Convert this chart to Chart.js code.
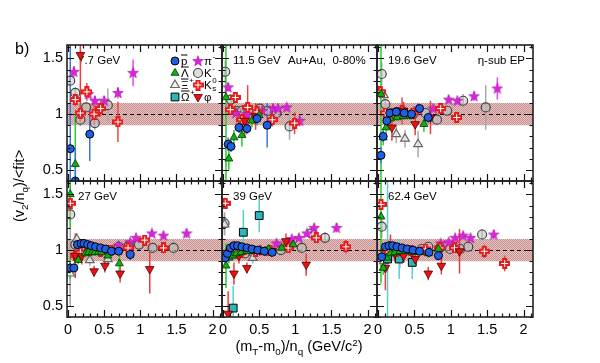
<!DOCTYPE html>
<html>
<head>
<meta charset="utf-8">
<script src="https://cdn.jsdelivr.net/npm/chart.js@4.4.1/dist/chart.umd.min.js"></script>
<style>
  html, body { margin: 0; padding: 0; background: #fff; }
  #wrap { position: relative; width: 600px; height: 363px; overflow: hidden; font-family: 'Liberation Sans', Arial, sans-serif; }
  #wrap canvas { position: absolute; left: 0; top: 0; }
  .lbl { position: absolute; white-space: nowrap; color: #000; line-height: 1; }
  .lbl sub { font-size: 68%; vertical-align: -0.35em; }
  .lbl sup { font-size: 68%; vertical-align: 0.55em; }
</style>
</head>
<body>
<div id="wrap">
  <div class="lbl" style="left:15px; top:41px; font-size:16px">b)</div>
  <div class="lbl" style="left:21px; top:186px; font-size:14.5px; transform: translate(-50%,-50%) rotate(-90deg)">(v<sub>2</sub>/n<sub>q</sub>)/&lt;fit&gt;</div>
  <div class="lbl" style="left:299px; top:347px; font-size:14.5px; transform: translate(-50%,-50%)">(m<sub>T</sub>-m<sub>0</sub>)/n<sub>q</sub> (GeV/c<sup>2</sup>)</div>
</div>
<script>
// panel labels and axis ticks
const energies = ['7.7 GeV', '11.5 GeV', '19.6 GeV', '27 GeV', '39 GeV', '62.4 GeV'];
const xTicks = [0, 0.5, 1, 1.5, 2];
const yTicks = [0.5, 1, 1.5];
const xRange = [-0.015, 2.13];
const yRange = [0.4, 1.62];

// each species: one list per panel (7.7, 11.5, 19.6, 27, 39, 62.4), points are [x, y, error]
const pbar = [
  [[0.03,0.69,1.0],[0.10,0.40,0.3],[0.30,0.82,0.24]],
  [[0.07,0.73,0.06],[0.11,0.71,0.05],[0.22,0.88,0.05],[0.33,0.87,0.05],[0.47,0.96,0.06],[0.61,0.90,0.2]],
  [[0.04,0.63,0.07],[0.07,0.80,0.05],[0.12,0.94,0.04],[0.16,1.01,0.03],[0.25,1.02,0.03],[0.36,1.01,0.03],[0.46,1.00,0.04],[0.57,1.05,0.04],[0.69,0.97,0.05]],
  [[0.03,0.84,0.04],[0.08,0.84,0.04],[0.13,1.05,0.03],[0.18,1.06,0.02],[0.22,1.06,0.02],[0.27,1.05,0.02],[0.32,1.04,0.02],[0.38,1.03,0.02],[0.45,1.02,0.02],[0.52,1.01,0.02],[0.60,0.99,0.03],[0.70,0.99,0.03],[0.86,0.96,0.05]],
  [[0.03,0.93,0.04],[0.06,0.97,0.03],[0.10,1.02,0.02],[0.15,1.04,0.02],[0.20,1.04,0.02],[0.26,1.03,0.02],[0.33,1.02,0.02],[0.40,1.01,0.02],[0.48,1.00,0.02],[0.57,0.99,0.03],[0.68,0.98,0.03]],
  [[0.05,0.94,0.04],[0.10,1.03,0.03],[0.15,1.04,0.02],[0.20,1.04,0.02],[0.26,1.03,0.02],[0.33,1.02,0.02],[0.40,1.01,0.02],[0.48,1.00,0.02],[0.57,0.99,0.03],[0.70,0.98,0.03],[0.83,0.95,0.04]]
];
const lambda = [
  [[0.10,0.55,0.45]],
  [[0.04,1.15,1.0],[0.08,0.60,0.1],[0.15,0.79,0.07],[0.26,0.81,0.1],[0.40,0.94,0.06],[0.50,0.99,0.05]],
  [[0.04,1.18,0.8],[0.07,0.79,0.07],[0.11,0.88,0.05],[0.17,0.96,0.04],[0.26,0.97,0.03],[0.35,0.98,0.03],[0.44,0.98,0.03],[0.63,0.91,0.07]],
  [[0.03,1.50,0.3],[0.03,0.84,0.1],[0.14,0.91,0.04],[0.19,1.05,0.03],[0.24,0.97,0.03],[0.28,0.98,0.03],[0.33,0.98,0.03],[0.37,0.98,0.03],[0.42,0.98,0.03],[0.46,0.98,0.03],[0.55,0.95,0.04],[0.71,0.88,0.1]],
  [[0.04,0.86,0.2],[0.08,0.93,0.05],[0.13,0.95,0.03],[0.18,0.97,0.03],[0.25,0.98,0.03],[0.33,0.99,0.02],[0.42,0.99,0.03],[0.52,1.00,0.03],[0.63,1.01,0.03],[0.81,1.02,0.04],[0.97,1.05,0.05]],
  [[0.04,1.30,0.6],[0.07,0.84,0.06],[0.12,0.93,0.04],[0.17,0.97,0.03],[0.23,0.98,0.03],[0.30,0.99,0.03],[0.38,0.99,0.03],[0.47,0.98,0.03],[0.57,0.98,0.03],[0.69,0.97,0.04],[0.83,1.01,0.05]]
];
const xi = [
  [],
  [],
  [[0.08,1.17,0.05],[0.25,0.82,0.08],[0.37,0.78,0.08],[0.55,0.73,0.12]],
  [[0.03,0.79,0.3],[0.12,1.10,0.05],[0.30,0.91,0.05],[0.55,0.92,0.06]],
  [[0.02,1.23,0.1],[0.15,0.95,0.05],[0.41,0.93,0.05]],
  [[0.08,0.90,0.1],[0.30,0.92,0.08]]
];
const omega = [
  [],
  [],
  [],
  [],
  [[0.14,0.48,0.2],[0.28,1.16,0.2],[0.50,1.31,0.15]],
  [[0.13,0.92,0.9],[0.29,0.92,0.18],[0.47,0.89,0.15]]
];
const pion = [
  [[0.08,1.38,0.05],[0.28,1.18,0.04],[0.37,1.12,0.04],[0.50,1.12,0.04],[0.69,1.19,0.05],[0.90,1.37,0.12]],
  [[0.07,1.24,0.04],[0.18,1.01,0.02],[0.33,1.00,0.02],[0.54,1.03,0.02],[0.69,1.05,0.02],[0.76,1.05,0.03],[0.88,1.06,0.03],[1.06,0.94,0.05]],
  [[0.55,1.05,0.02],[0.76,1.05,0.02],[0.97,1.13,0.03],[1.09,1.12,0.03],[1.32,1.16,0.04],[1.64,1.23,0.1]],
  [[0.70,1.04,0.02],[0.86,1.07,0.02],[0.94,1.11,0.02],[1.16,1.15,0.03],[1.32,1.13,0.03],[1.64,1.15,0.04]],
  [[0.74,1.06,0.02],[0.95,1.10,0.02],[1.05,1.11,0.02],[1.16,1.15,0.03],[1.26,1.20,0.03],[1.57,1.20,0.04]],
  [[0.86,1.06,0.02],[0.97,1.07,0.02],[1.06,1.11,0.02],[1.17,1.13,0.03],[1.27,1.11,0.03],[1.59,1.14,0.04]]
];
const kaon = [
  [[0.03,1.30,0.05],[0.10,1.19,0.05],[0.17,0.95,0.06],[0.25,1.06,0.05],[0.37,0.92,0.06],[0.55,1.08,0.15]],
  [[0.03,1.38,0.1],[0.11,1.13,0.04],[0.18,1.03,0.03],[0.26,1.03,0.03],[0.35,1.03,0.03],[0.51,1.05,0.03],[0.62,1.03,0.04],[0.74,1.01,0.04],[0.92,0.89,0.12]],
  [[0.05,1.36,0.1],[0.10,1.09,0.04],[0.19,1.01,0.03],[0.26,1.02,0.03],[0.35,1.02,0.03],[0.48,1.00,0.03],[0.65,1.01,0.04],[0.81,0.95,0.04],[0.95,1.03,0.05],[1.17,1.12,0.06],[1.48,1.06,0.2]],
  [[0.03,1.32,0.8],[0.10,1.05,0.05],[0.20,1.02,0.03],[0.30,1.01,0.02],[0.46,1.00,0.02],[0.58,1.00,0.02],[0.70,1.03,0.03],[0.84,1.04,0.03],[0.98,1.05,0.03],[1.17,1.02,0.04],[1.46,1.02,0.07]],
  [[0.02,1.24,0.1],[0.10,1.00,0.03],[0.20,0.99,0.02],[0.30,0.97,0.02],[0.42,0.98,0.02],[0.60,0.99,0.02],[0.80,1.00,0.03],[0.90,1.04,0.03],[1.09,1.02,0.04],[1.22,1.15,0.04],[1.41,1.11,0.05]],
  [[0.05,1.21,0.1],[0.10,1.00,0.03],[0.20,0.99,0.02],[0.30,0.99,0.02],[0.45,1.00,0.02],[0.60,1.01,0.02],[0.69,1.03,0.03],[0.85,1.02,0.03],[0.99,1.01,0.03],[1.13,1.01,0.04],[1.24,1.03,0.04],[1.43,1.14,0.05]]
];
const k0s = [
  [[0.10,1.13,0.06],[0.17,1.01,0.08],[0.26,1.20,0.08],[0.36,1.00,0.1],[0.45,1.05,0.07],[0.69,0.93,0.18]],
  [[0.10,1.04,0.05],[0.17,1.15,0.04],[0.26,0.95,0.06],[0.34,1.06,0.2],[0.47,1.02,0.05],[0.68,0.95,0.06],[0.99,0.92,0.1]],
  [[0.03,1.20,0.05],[0.10,1.01,0.04],[0.20,1.00,0.04],[0.33,1.03,0.12],[0.48,1.01,0.04],[0.86,1.05,0.04],[1.08,0.97,0.05]],
  [[0.03,1.42,0.05],[0.10,0.95,0.05],[0.17,0.98,0.04],[0.30,1.00,0.03],[0.45,0.99,0.03],[0.59,1.00,0.03],[0.83,1.02,0.03],[1.06,1.09,0.03],[1.32,1.02,0.05]],
  [[0.03,1.42,0.05],[0.12,1.00,0.04],[0.25,0.98,0.03],[0.45,0.99,0.03],[0.65,1.00,0.03],[0.90,1.02,0.03],[1.29,1.11,0.04],[1.70,1.03,0.06]],
  [[0.04,1.41,0.05],[0.12,1.00,0.04],[0.25,0.99,0.03],[0.45,1.00,0.03],[0.65,1.01,0.03],[0.85,1.02,0.03],[1.05,1.02,0.04],[1.46,0.99,0.06],[1.74,0.88,0.07]]
];
const phi = [
  [[0.17,1.53,0.6]],
  [[0.30,0.94,0.15],[0.45,0.98,0.12]],
  [[0.19,0.88,0.12],[0.35,1.03,0.08],[0.51,0.91,0.1],[0.72,0.97,0.15]],
  [[0.10,0.95,0.2],[0.19,0.95,0.08],[0.36,0.81,0.05],[0.51,0.86,0.06],[0.72,0.79,0.08],[1.13,0.83,0.22]],
  [[0.07,0.43,0.2],[0.15,0.79,0.1],[0.22,0.95,0.07],[0.33,0.84,0.05],[0.51,1.00,0.05],[0.67,0.99,0.05],[0.87,1.08,0.07],[1.15,0.87,0.1]],
  [[0.10,0.84,0.2],[0.17,1.04,0.1],[0.23,0.97,0.07],[0.35,0.95,0.06],[0.51,0.92,0.06],[0.69,0.79,0.06],[0.87,0.86,0.08],[1.12,0.99,0.2]]
];

// panel edges in page pixels
const colEdges = [67, 222, 377, 533];
const rowEdges = [45, 181, 317];
const Y_AXIS_W = 40, X_AXIS_H = 24;
const FONT = "'Liberation Sans', Arial, sans-serif";

function starImage(color) {
  const c = document.createElement('canvas');
  c.width = c.height = 12;
  const g = c.getContext('2d');
  g.beginPath();
  for (let k = 0; k < 10; k++) {
    const r = k % 2 ? 2.3 : 5.6;
    const a = -Math.PI / 2 + k * Math.PI / 5;
    g.lineTo(6 + r * Math.cos(a), 6.3 + r * Math.sin(a));
  }
  g.closePath();
  g.fillStyle = color; g.fill();
  g.strokeStyle = '#9a109a'; g.lineWidth = 0.6; g.stroke();
  return c;
}
function plusImage() {
  const c = document.createElement('canvas');
  c.width = c.height = 11;
  const g = c.getContext('2d');
  g.fillStyle = '#e41c1c';
  g.fillRect(3, 0, 5, 11);
  g.fillRect(0, 3, 11, 5);
  g.fillStyle = '#fff';
  g.fillRect(5, 2, 1, 7);
  g.fillRect(2, 5, 7, 1);
  return c;
}

// top-most first (chart.js draws the first dataset last)
const species = [
  { key: 'pbar', pts: pbar, style: 'circle', r: 4, bg: '#1f5fe6', bd: '#000', bw: 1, err: '#3a78d8', label: { b: 'p', bar: true } },
  { key: 'lambda', pts: lambda, style: 'triangle', r: 4.6, bg: '#10b010', bd: '#003300', bw: 0.8, err: '#2ec82e', label: { b: 'Λ', bar: true } },
  { key: 'phi', pts: phi, style: 'triangle', rot: 180, r: 5, bg: '#ee1010', bd: '#500000', bw: 0.8, err: '#ee3a3a', label: { b: 'φ' } },
  { key: 'k0s', pts: k0s, style: plusImage(), r: 5, bg: '#e41c1c', bd: '#e41c1c', bw: 0, err: '#ee4444', label: { b: 'K', sup: '0', sub: 's' } },
  { key: 'omega', pts: omega, style: 'rect', r: 5.5, bg: '#2cb8b8', bd: '#000', bw: 1, err: '#55d0d0', label: { b: 'Ω', bar: true, sup: '+' } },
  { key: 'xi', pts: xi, style: 'triangle', r: 5, bg: 'rgba(236,236,236,0.75)', bd: '#666', bw: 1.2, err: '#aaaaaa', label: { b: 'Ξ', bar: true, sup: '+' } },
  { key: 'pion', pts: pion, style: starImage('#e020e0'), r: 5, bg: '#e020e0', bd: '#e020e0', bw: 0, err: '#ee44ee', label: { b: 'π', sup: '-' } },
  { key: 'kaon', pts: kaon, style: 'circle', r: 4.5, bg: 'rgba(195,195,195,0.55)', bd: '#454545', bw: 1.2, err: '#a8a8a8', label: { b: 'K', sup: '-' } }
];

const S = Object.fromEntries(species.map(s => [s.key, s]));
const legendCols = [
  [S.pbar, S.lambda, S.xi, S.omega],
  [S.pion, S.kaon, S.k0s, S.phi]
];

let hatch = null;
function bandPattern(ctx) {
  if (hatch) return hatch;
  const c = document.createElement('canvas');
  c.width = c.height = 2;
  const g = c.getContext('2d');
  g.fillStyle = '#e6c4c4'; g.fillRect(0, 0, 2, 2);
  g.fillStyle = '#c99090'; g.fillRect(0, 0, 1, 1); g.fillRect(1, 1, 1, 1);
  hatch = ctx.createPattern(c, 'repeat');
  return hatch;
}

function drawLabel(ctx, lab, x, y) {
  ctx.font = '11.5px ' + FONT;
  ctx.textAlign = 'left';
  ctx.textBaseline = 'middle';
  ctx.fillStyle = '#000';
  const w = ctx.measureText(lab.b).width;
  ctx.fillText(lab.b, x, y + 0.5);
  if (lab.bar) {
    ctx.fillRect(x, y - 6.5, w, 1);
  }
  ctx.font = '8px ' + FONT;
  if (lab.sup) ctx.fillText(lab.sup, x + w + 0.5, y - 4);
  if (lab.sub) ctx.fillText(lab.sub, x + w + 0.5, y + 4);
}

function marker(ctx, s, x, y) {
  ctx.save();
  ctx.fillStyle = s.bg;
  ctx.strokeStyle = s.bd;
  ctx.lineWidth = s.bw;
  Chart.helpers.drawPoint(ctx, { pointStyle: s.style, radius: s.r, rotation: s.rot || 0, borderWidth: s.bw }, x, y);
  ctx.restore();
}

const decor = {
  id: 'decor',
  beforeDatasetsDraw(chart, args, opts) {
    const { ctx, chartArea: a, scales: { x, y } } = chart;
    ctx.save();
    ctx.beginPath();
    ctx.rect(a.left, a.top, a.width, a.height);
    ctx.clip();
    // +-10% band and unity line
    const yb1 = y.getPixelForValue(1.1), yb2 = y.getPixelForValue(0.9);
    ctx.fillStyle = bandPattern(ctx);
    ctx.fillRect(a.left, yb1, a.width, yb2 - yb1);
    ctx.strokeStyle = '#000';
    ctx.lineWidth = 1;
    ctx.setLineDash([4, 3]);
    const y1 = Math.round(y.getPixelForValue(1)) + 0.5;
    ctx.beginPath(); ctx.moveTo(a.left, y1); ctx.lineTo(a.right, y1); ctx.stroke();
    ctx.setLineDash([]);
    // panel text
    ctx.fillStyle = '#000';
    ctx.font = '11.5px ' + FONT;
    ctx.textBaseline = 'middle';
    ctx.textAlign = 'left';
    ctx.fillText(opts.title, a.left + 11, a.top + 16);
    if (opts.extra) ctx.fillText(opts.extra, a.left + 66, a.top + 16);
    if (opts.right) { ctx.textAlign = 'right'; ctx.fillText(opts.right, a.right - 8, a.top + 16); }
    // error bars
    ctx.lineWidth = 1.5;
    for (let di = chart.data.datasets.length - 1; di >= 0; di--) {
      const ds = chart.data.datasets[di];
      const meta = chart.getDatasetMeta(di);
      ctx.strokeStyle = ds.errColor;
      meta.data.forEach((pt, j) => {
        const v = ds.data[j].y, e = ds.errs[j];
        ctx.beginPath();
        ctx.moveTo(pt.x, y.getPixelForValue(v - e));
        ctx.lineTo(pt.x, y.getPixelForValue(v + e));
        ctx.stroke();
      });
    }
    ctx.restore();
  },
  afterDatasetsDraw(chart, args, opts) {
    const { ctx, chartArea: a, scales: { x, y } } = chart;
    ctx.save();
    ctx.strokeStyle = '#111';
    ctx.lineWidth = 1.2;
    ctx.beginPath();
    for (let k = 0; k <= 21; k++) {
      const px = Math.round(x.getPixelForValue(k / 10)) + 0.5;
      const len = k % 5 === 0 ? 7 : 3.5;
      ctx.moveTo(px, a.bottom); ctx.lineTo(px, a.bottom - len);
      ctx.moveTo(px, a.top); ctx.lineTo(px, a.top + len);
    }
    for (let k = 4; k <= 16; k++) {
      const py = Math.round(y.getPixelForValue(k / 10)) + 0.5;
      const len = k % 5 === 0 ? 7 : 3.5;
      ctx.moveTo(a.left, py); ctx.lineTo(a.left + len, py);
      ctx.moveTo(a.right, py); ctx.lineTo(a.right - len, py);
    }
    ctx.stroke();
    ctx.lineWidth = 1.6;
    ctx.strokeStyle = '#222';
    ctx.strokeRect(a.left, a.top, a.width, a.height);
    if (opts.legend) {
      legendCols.forEach((col, ci) => {
        col.forEach((s, ri) => {
          const mx = a.left + 108 + ci * 23, my = a.top + 16 + ri * 12;
          marker(ctx, s, mx, my);
          drawLabel(ctx, s.label, mx + 6, my);
        });
      });
    }
    ctx.restore();
  }
};

const wrap = document.getElementById('wrap');
energies.forEach((title, i) => {
  const col = i % 3, row = Math.floor(i / 3);
  const showY = col === 0, showX = row === 1;
  const cv = document.createElement('canvas');
  cv.width = 600; cv.height = 363;
  wrap.insertBefore(cv, wrap.firstChild);
  new Chart(cv.getContext('2d'), {
    type: 'scatter',
    data: {
      datasets: species.map(s => ({
        label: s.key,
        data: s.pts[i].map(p => ({ x: p[0], y: p[1] })),
        errs: s.pts[i].map(p => p[2]),
        errColor: s.err,
        pointStyle: s.style,
        pointRadius: s.r,
        pointRotation: s.rot || 0,
        pointBackgroundColor: s.bg,
        pointBorderColor: s.bd,
        pointBorderWidth: s.bw,
        clip: 0
      }))
    },
    options: {
      responsive: false,
      animation: false,
      events: [],
      layout: {
        padding: {
          left: colEdges[col] - (showY ? Y_AXIS_W : 0),
          right: 600 - colEdges[col + 1],
          top: rowEdges[row],
          bottom: 363 - rowEdges[row + 1] - (showX ? X_AXIS_H : 0)
        }
      },
      scales: {
        x: {
          type: 'linear',
          min: xRange[0],
          max: xRange[1],
          afterBuildTicks: s => { s.ticks = xTicks.map(v => ({ value: v })); },
          afterFit: s => { s.height = showX ? X_AXIS_H : 0; },
          grid: { display: false, drawTicks: false },
          border: { display: false },
          ticks: { display: showX, padding: 4, color: '#000', maxRotation: 0, autoSkip: false, font: { family: FONT, size: 14.5 }, callback: v => String(v) }
        },
        y: {
          type: 'linear',
          min: yRange[0],
          max: yRange[1],
          afterBuildTicks: s => { s.ticks = yTicks.map(v => ({ value: v })); },
          afterFit: s => { s.width = showY ? Y_AXIS_W : 0; },
          grid: { display: false, drawTicks: false },
          border: { display: false },
          ticks: { display: showY, padding: 4, color: '#000', autoSkip: false, font: { family: FONT, size: 14.5 }, callback: v => String(v) }
        }
      },
      plugins: {
        legend: { display: false },
        tooltip: { enabled: false },
        decor: {
          title: title,
          extra: i === 1 ? 'Au+Au,  0-80%' : '',
          right: i === 2 ? 'η-sub EP' : '',
          legend: i === 0
        }
      }
    },
    plugins: [decor]
  });
});
</script>
</body>
</html>
